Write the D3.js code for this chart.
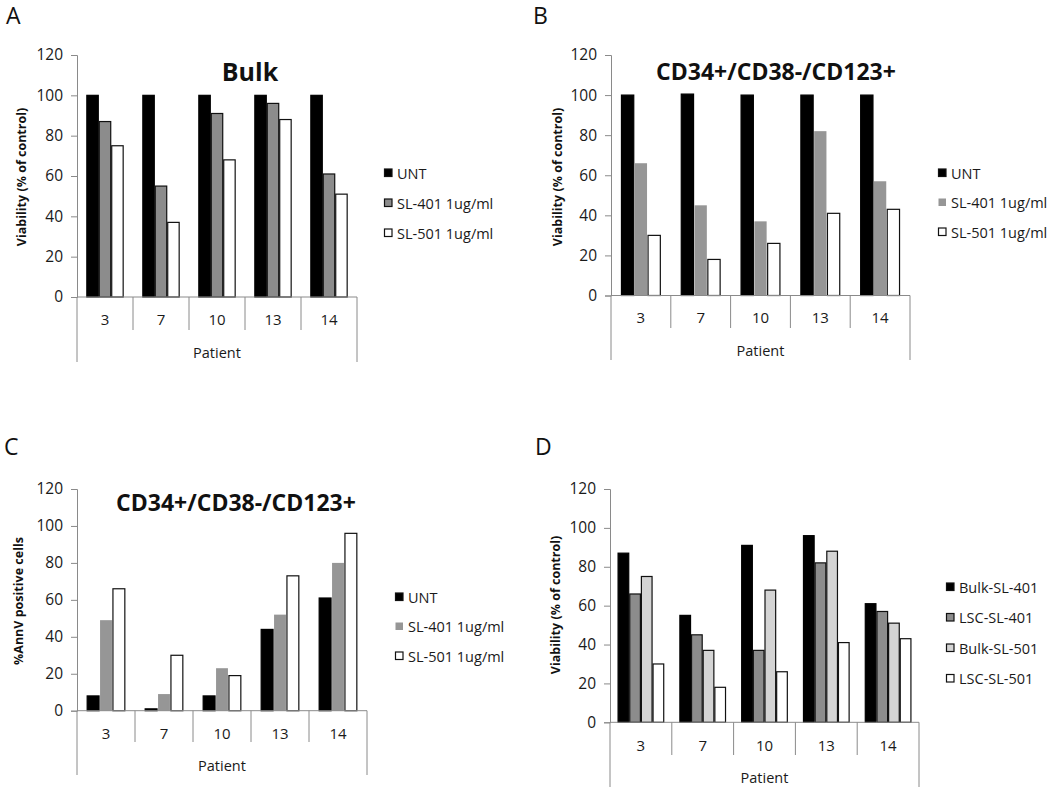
<!DOCTYPE html>
<html>
<head>
<meta charset="utf-8">
<script src="https://cdn.jsdelivr.net/npm/d3@7"></script>
<style>
  html, body { margin: 0; padding: 0; background: #fff; }
  svg { display: block; font-family: "Open Sans", "DejaVu Sans", sans-serif; }
</style>
</head>
<body>
<svg id="chart" width="1050" height="789"></svg>
<script>
// ---------------- DATA ----------------
const patients = ["3", "7", "10", "13", "14"];
const yTicks = [0, 20, 40, 60, 80, 100, 120];

// Panel A: Bulk viability (% of control)
const bulkSeries = ["UNT", "SL-401 1ug/ml", "SL-501 1ug/ml"];
const bulkUNT    = [100, 100, 100, 100, 100];
const bulkSL401  = [87, 55, 91, 96, 61];
const bulkSL501  = [75, 37, 68, 88, 51];

// Panel B: CD34+/CD38-/CD123+ viability (% of control)
const lscSeries = ["UNT", "SL-401 1ug/ml", "SL-501 1ug/ml"];
const lscUNT    = [100, 100.5, 100, 100, 100];
const lscSL401  = [66, 45, 37, 82, 57];
const lscSL501  = [30, 18, 26, 41, 43];

// Panel C: CD34+/CD38-/CD123+ %AnnV positive cells
const annvSeries = ["UNT", "SL-401 1ug/ml", "SL-501 1ug/ml"];
const annvUNT    = [8, 1, 8, 44, 61];
const annvSL401  = [49, 9, 23, 52, 80];
const annvSL501  = [66, 30, 19, 73, 96];

// Panel D: comparison viability (% of control)
const compSeries = ["Bulk-SL-401", "LSC-SL-401", "Bulk-SL-501", "LSC-SL-501"];
const compBulk401 = [87, 55, 91, 96, 61];
const compLSC401  = [66, 45, 37, 82, 57];
const compBulk501 = [75, 37, 68, 88, 51];
const compLSC501  = [30, 18, 26, 41, 43];

// ---------------- DRAW ----------------
const svg = d3.select("#chart");
const AXIS_COLOR = "#8a8a8a";
const TEXT_COLOR = "#1a1a1a";

function drawPanel(cfg) {
  const g = svg.append("g");
  const y = d3.scaleLinear().domain([0, 120]).range([cfg.yZero, cfg.yTop]);
  const x = d3.scaleBand().domain(patients).range([cfg.x0, cfg.x1]).paddingInner(0).paddingOuter(0);
  const nS = cfg.series.length;
  const groupW = x.bandwidth() * nS / (nS + cfg.gap);
  const xs = d3.scaleBand().domain(cfg.series).range([0, groupW]).padding(0);

  // panel letter
  g.append("text").attr("x", cfg.letterX).attr("y", cfg.letterY)
    .attr("font-size", 23).attr("fill", "#111").text(cfg.letter);

  // bars
  cfg.series.forEach((s, si) => {
    const vals = cfg.values[si];
    const st = cfg.styles[si];
    g.append("g").selectAll("rect").data(vals).join("rect")
      .attr("x", (d, i) => x(patients[i]) + (x.bandwidth() - groupW) / 2 + xs(s) + 0.5)
      .attr("y", d => y(d))
      .attr("width", xs.bandwidth() - 1)
      .attr("height", d => y(0) - y(d))
      .attr("fill", st.fill)
      .attr("stroke", st.stroke)
      .attr("stroke-width", st.stroke === "none" ? 0 : 1.2);
  });

  // y axis
  const yAxis = d3.axisLeft(y).tickValues(yTicks).tickSize(6).tickPadding(8).tickFormat(d3.format("d"));
  const ya = g.append("g").attr("transform", `translate(${cfg.x0},0)`).call(yAxis);
  ya.select(".domain").attr("stroke", AXIS_COLOR);
  ya.selectAll(".tick line").attr("stroke", AXIS_COLOR);
  ya.selectAll(".tick text").attr("font-size", 15.5).attr("fill", TEXT_COLOR)
    .attr("font-family", "\"Open Sans\", sans-serif");

  // x axis line at zero
  g.append("line").attr("x1", cfg.x0).attr("x2", cfg.x1)
    .attr("y1", y(0)).attr("y2", y(0)).attr("stroke", AXIS_COLOR);

  // category dividers
  const bounds = patients.map(p => x(p)).concat([cfg.x1]);
  g.append("g").selectAll("line").data(bounds).join("line")
    .attr("x1", d => d).attr("x2", d => d)
    .attr("y1", y(0))
    .attr("y2", (d, i) => (i === 0 || i === bounds.length - 1) ? cfg.outerBottom : cfg.divBottom)
    .attr("stroke", AXIS_COLOR);

  // category labels
  g.append("g").selectAll("text").data(patients).join("text")
    .attr("x", d => x(d) + x.bandwidth() / 2)
    .attr("y", cfg.catY)
    .attr("text-anchor", "middle").attr("dominant-baseline", "central")
    .attr("font-size", 15).attr("fill", TEXT_COLOR).text(d => d);

  // Patient label
  g.append("text").attr("x", (cfg.x0 + cfg.x1) / 2).attr("y", cfg.patientY)
    .attr("text-anchor", "middle").attr("dominant-baseline", "central")
    .attr("font-size", 14.5).attr("fill", TEXT_COLOR).text("Patient");

  // y label
  g.append("text")
    .attr("transform", `translate(${cfg.yLabelX},${cfg.yLabelY}) rotate(-90)`)
    .attr("text-anchor", "middle").attr("dominant-baseline", "central")
    .attr("font-size", cfg.yLabelSize).attr("font-weight", "bold").attr("fill", "#111")
    .text(cfg.yLabel);

  // title
  if (cfg.title) {
    g.append("text").attr("x", cfg.titleX).attr("y", cfg.titleY)
      .attr("text-anchor", "middle").attr("dominant-baseline", "central")
      .attr("font-size", cfg.titleSize).attr("font-weight", "bold").attr("fill", "#111")
      .text(cfg.title);
  }

  // legend
  const lg = g.append("g");
  cfg.series.forEach((s, si) => {
    const st = cfg.styles[si];
    const ly = cfg.legendY0 + si * cfg.legendStep;
    lg.append("rect").attr("x", cfg.legendX + 0.5).attr("y", ly - 4)
      .attr("width", 7.5).attr("height", 7.5)
      .attr("fill", st.fill)
      .attr("stroke", st.stroke === "none" ? "none" : "#111")
      .attr("stroke-width", 1.2);
    lg.append("text").attr("x", cfg.legendX + 13).attr("y", ly)
      .attr("dominant-baseline", "central")
      .attr("font-size", 14.5).attr("fill", TEXT_COLOR).text(s);
  });
}

const sBlack = { fill: "#000", stroke: "#000" };
const sGrayB = { fill: "#8c8c8c", stroke: "#111" };
const sGrayN = { fill: "#969696", stroke: "none" };
const sLight = { fill: "#d4d4d4", stroke: "#111" };
const sWhite = { fill: "#fff", stroke: "#111" };

drawPanel({
  letter: "A", letterX: 6, letterY: 24,
  x0: 77, x1: 357, yZero: 297, yTop: 55, gap: 1.5,
  divBottom: 330, outerBottom: 362, catY: 319, patientY: 352,
  series: bulkSeries, values: [bulkUNT, bulkSL401, bulkSL501],
  styles: [sBlack, sGrayB, sWhite],
  yLabel: "Viability (% of control)", yLabelX: 21, yLabelY: 177, yLabelSize: 12.5,
  title: "Bulk", titleX: 250, titleY: 71, titleSize: 25,
  legendX: 384, legendY0: 173, legendStep: 30
});

drawPanel({
  letter: "B", letterX: 533, letterY: 24,
  x0: 611, x1: 910, yZero: 295.5, yTop: 55, gap: 1.5,
  divBottom: 328, outerBottom: 360, catY: 317, patientY: 350,
  series: lscSeries, values: [lscUNT, lscSL401, lscSL501],
  styles: [sBlack, sGrayN, sWhite],
  yLabel: "Viability (% of control)", yLabelX: 557, yLabelY: 177, yLabelSize: 12.5,
  title: "CD34+/CD38-/CD123+", titleX: 776, titleY: 71, titleSize: 23,
  legendX: 938, legendY0: 173, legendStep: 29.5
});

drawPanel({
  letter: "C", letterX: 4, letterY: 455,
  x0: 77, x1: 367, yZero: 710.7, yTop: 489, gap: 1.5,
  divBottom: 742, outerBottom: 775, catY: 733, patientY: 765,
  series: annvSeries, values: [annvUNT, annvSL401, annvSL501],
  styles: [sBlack, sGrayN, sWhite],
  yLabel: "%AnnV positive cells", yLabelX: 18, yLabelY: 601, yLabelSize: 12.5,
  title: "CD34+/CD38-/CD123+", titleX: 236, titleY: 502, titleSize: 23,
  legendX: 395, legendY0: 597, legendStep: 29.5
});

drawPanel({
  letter: "D", letterX: 535, letterY: 455,
  x0: 610, x1: 919, yZero: 722.3, yTop: 489, gap: 1.3,
  divBottom: 755, outerBottom: 787, catY: 745, patientY: 777,
  series: compSeries, values: [compBulk401, compLSC401, compBulk501, compLSC501],
  styles: [sBlack, sGrayB, sLight, sWhite],
  yLabel: "Viability (% of control)", yLabelX: 555, yLabelY: 605, yLabelSize: 12.5,
  title: null,
  legendX: 946, legendY0: 587, legendStep: 30.5
});
</script>
</body>
</html>
